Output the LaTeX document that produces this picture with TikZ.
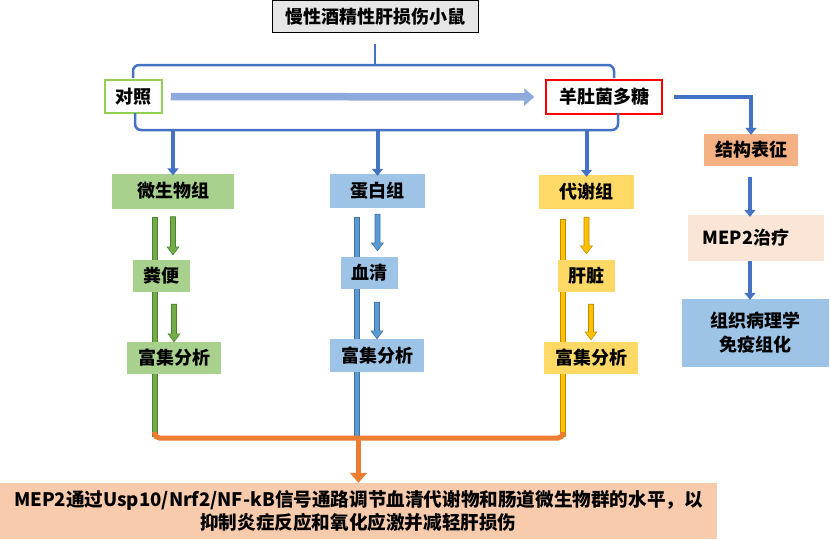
\documentclass[tikz,border=0pt]{standalone}
\usepackage{fontspec}
\setmainfont{Noto Sans CJK SC}
\usetikzlibrary{arrows.meta,calc}
\definecolor{dblue}{HTML}{4472C4}
\definecolor{lblue}{HTML}{8FAADC}
\definecolor{grnfill}{HTML}{A9D18E}
\definecolor{grnline}{HTML}{70AD47}
\definecolor{grnedge}{HTML}{507E32}
\definecolor{blufill}{HTML}{9DC3E6}
\definecolor{bluline}{HTML}{5B9BD5}
\definecolor{bluedge}{HTML}{41719C}
\definecolor{yelfill}{HTML}{FFD966}
\definecolor{yelline}{HTML}{FFC000}
\definecolor{yeledge}{HTML}{BC8C00}
\definecolor{orgline}{HTML}{ED7D31}
\definecolor{peach}{HTML}{F8CBAD}
\definecolor{salmon}{HTML}{F4B183}
\definecolor{pale}{HTML}{FBE5D6}
\definecolor{greybox}{HTML}{E7E6E6}
\definecolor{ctrlgrn}{HTML}{92D050}
\tikzset{
  box/.style={inner sep=0pt, font=\bfseries\fontsize{18}{23}\selectfont},
  grnbox/.style={box, fill=grnfill},
  blubox/.style={box, fill=blufill},
  yelbox/.style={box, fill=yelfill},
  brace/.style={draw=dblue, line width=2.5pt, rounded corners=6pt},
  thickarr/.style={draw=dblue, line width=4pt, -{Triangle[width=11pt,length=7pt]}},
}
% block arrow inside a column: start, end, colours
\newcommand{\colarrow}[3]{%
  \path[#3, line width=0.6pt] let \p1=(#1), \p2=(#2) in
    (\x1-2.5pt,\y1) -- (\x1+2.5pt,\y1) -- (\x1+2.5pt,\y2+8pt) -- (\x1+6pt,\y2+8pt)
    -- (\x1,\y2) -- (\x1-6pt,\y2+8pt) -- (\x1-2.5pt,\y2+8pt) -- cycle;}
\begin{document}
\begin{tikzpicture}[x=1pt,y=-1pt]
\useasboundingbox (0,0) rectangle (830,539);
%top
\node (title) at (375,16.5) [box, fill=greybox, draw=black, line width=1pt, minimum width=206pt, minimum height=32pt] {慢性酒精性肝损伤小鼠};
\draw[dblue, line width=2.5pt] ([yshift=-11pt]title.south) -- (375,65);
\draw[brace] (133,78) -- (133,65) -- (614,65) -- (614,78);
\node (ctrl) at (133.5,96.5) [box, fill=white, draw=ctrlgrn, line width=1.5pt, minimum width=57pt, minimum height=33pt] {对照};
\node (mep) at (604,97) [box, fill=white, draw=red, line width=1.5pt, minimum width=116pt, minimum height=34pt] {羊肚菌多糖};
\draw[lblue, line width=7.5pt, -{Triangle[width=17pt,length=10pt]}] ([xshift=8pt]ctrl.east) -- ([xshift=-11pt]mep.west);
\draw[brace] (135,113) -- (135,130) -- (618,130) -- (618,113);

%three groups
\node (wsw) at (173,191) [grnbox, minimum width=122pt, minimum height=35pt] {微生物组};
\node (dbz) at (377.5,191) [blubox, minimum width=95pt, minimum height=34pt] {蛋白组};
\node (dxz) at (586.5,192) [yelbox, minimum width=95pt, minimum height=34pt] {代谢组};
\draw[thickarr] (wsw.north |- 0,131) -- ([yshift=-2pt]wsw.north);
\draw[thickarr] (dbz.north |- 0,131) -- ([yshift=-2pt]dbz.north);
\draw[thickarr] (dxz.north |- 0,131) -- ([yshift=-2pt]dxz.north);

%column lines and bracket
\filldraw[fill=grnline, draw=grnedge, line width=0.6pt] (152,217) rectangle (157,436);
\filldraw[fill=bluline, draw=bluedge, line width=0.6pt] (354.5,217) rectangle (359.5,436);
\filldraw[fill=yelline, draw=yeledge, line width=0.6pt] (560.5,219) rectangle (565.5,436);
\draw[orgline, line width=5pt, rounded corners=5pt] (154.5,432) -- (154.5,438) -- (563,438) -- (563,432);

\node (fb) at (161.5,276) [grnbox, minimum width=57pt, minimum height=32pt] {粪便};
\node (xq) at (369.5,273) [blubox, minimum width=57pt, minimum height=32pt] {血清};
\node (gz) at (586.5,276) [yelbox, minimum width=57pt, minimum height=32pt] {肝脏};
\node (fx1) at (174,358) [grnbox, minimum width=94pt, minimum height=32pt] {富集分析};
\node (fx2) at (377,355.5) [blubox, minimum width=94pt, minimum height=33pt] {富集分析};
\node (fx3) at (591,358) [yelbox, minimum width=94pt, minimum height=32pt] {富集分析};

\colarrow{[yshift=-8pt]wsw.south}{[yshift=5pt]fb.north}{fill=grnline, draw=grnedge}
\colarrow{[yshift=-12pt]fb.south -| fx1.north}{fx1.north}{fill=grnline, draw=grnedge}
\colarrow{[yshift=-6pt]dbz.south}{[yshift=6pt]xq.north}{fill=bluline, draw=bluedge}
\colarrow{[yshift=-13pt]xq.south -| fx2.north}{fx2.north}{fill=bluline, draw=bluedge}
\colarrow{[yshift=-8pt]dxz.south}{[yshift=6pt]gz.north}{fill=yelline, draw=yeledge}
\colarrow{[yshift=-12pt]gz.south -| fx3.north}{[yshift=2pt]fx3.north}{fill=yelline, draw=yeledge}

%result
\node (res) at (358.5,511) [box, fill=peach, align=center, minimum width=717pt, minimum height=56pt, font=\bfseries\fontsize{18.6}{23}\selectfont] {MEP2通过Usp10/Nrf2/NF-kB信号通路调节血清代谢物和肠道微生物群的水平，以\\抑制炎症反应和氧化应激并减轻肝损伤};
\draw[orgline, line width=5pt, -{Triangle[width=17pt,length=10pt]}] (res.north |- 0,438) -- (res.north);

%right column
\node (jg) at (751,150) [box, fill=salmon, minimum width=94pt, minimum height=32pt] {结构表征};
\node (zl) at (756,238) [box, fill=pale, minimum width=136pt, minimum height=46pt] {MEP2治疗\hspace*{20pt}};
\node (zz) at (755.5,333) [box, fill=blufill, align=center, minimum width=147pt, minimum height=68pt, font=\bfseries\fontsize{18}{24}\selectfont] {组织病理学\\免疫组化};
\draw[dblue, line width=3.5pt, -{Triangle[width=11pt,length=7pt]}] ([xshift=11pt]mep.east) -- (jg.north |- mep.east) -- ([yshift=-1pt]jg.north);
\draw[thickarr] ([yshift=-11pt]jg.south -| 750,0) -- ([yshift=-2pt]zl.north -| 750,0);
\draw[thickarr] (zl.south -| 750,0) -- ([yshift=-1pt]zz.north -| 750,0);
\end{tikzpicture}
\end{document}
